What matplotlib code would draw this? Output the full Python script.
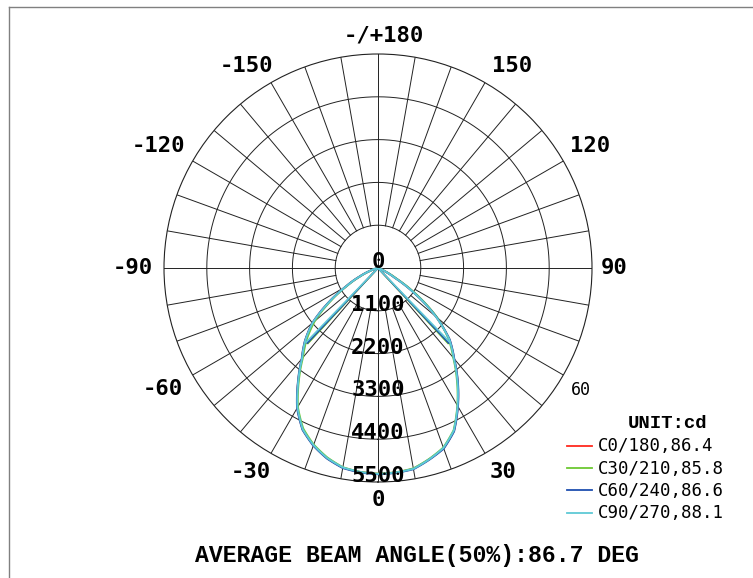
# Polar light distribution curve (4 C-planes) with beam angle lines
import numpy as np
import matplotlib.pyplot as plt
from matplotlib.lines import Line2D

# gamma angles (deg) the intensities were read at
gamma = [0, 5, 10, 15, 20, 25, 30, 35, 40, 45, 50, 55, 60, 65, 70, 75, 80, 85, 90]

# intensity in cd, right half (C0, C30, ...) and left half (C180, C210, ...)
c0_right = [5290, 5275, 5240, 5090, 4930, 4620, 4100, 3570, 3040, 2600, 1950, 1200, 500, 170, 50, 15, 0, 0, 0]
c0_left = [5290, 5265, 5210, 5060, 4850, 4580, 4150, 3580, 3040, 2650, 2200, 1550, 950, 520, 220, 70, 15, 0, 0]
c30_right = [5285, 5270, 5230, 5080, 4910, 4600, 4080, 3540, 3010, 2560, 1990, 1260, 560, 200, 60, 20, 0, 0, 0]
c30_left = [5285, 5260, 5200, 5040, 4830, 4550, 4120, 3550, 3000, 2590, 2120, 1500, 920, 500, 210, 60, 10, 0, 0]
c60_right = [5300, 5285, 5250, 5100, 4940, 4630, 4110, 3580, 3050, 2610, 1960, 1180, 480, 160, 45, 12, 0, 0, 0]
c60_left = [5300, 5275, 5220, 5070, 4860, 4590, 4160, 3590, 3050, 2660, 2210, 1570, 960, 530, 230, 75, 15, 0, 0]
c90_right = [5290, 5275, 5240, 5090, 4920, 4610, 4090, 3560, 3030, 2590, 1940, 1190, 490, 165, 48, 14, 0, 0, 0]
c90_left = [5290, 5262, 5205, 5055, 4845, 4575, 4140, 3575, 3035, 2645, 2195, 1545, 945, 515, 218, 68, 14, 0, 0]

series_names = ['C0/180', 'C30/210', 'C60/240', 'C90/270']
beam_angles = [86.4, 85.8, 86.6, 88.1]
avg_beam = 86.7
colors = ['#ff2a1f', '#6cc832', '#1f4fb0', '#5ec9d6']

r_ticks = [0, 1100, 2200, 3300, 4400, 5500]
angle_ticks = [0, 30, 60, 90, 120, 150, 180, -150, -120, -90, -60, -30]
angle_texts = ['0', '30', '60', '90', '120', '150', '-/+180', '-150', '-120', '-90', '-60', '-30']

W, H = 753, 578
cx, cy, R = 378, 268, 214

fig = plt.figure(figsize=(W / 100, H / 100), dpi=100)
ax = fig.add_axes([(cx - R) / W, (H - cy - R) / H, 2 * R / W, 2 * R / H], projection='polar')
ax.set_theta_zero_location('S')
ax.set_theta_direction(1)
ax.set_ylim(0, r_ticks[-1])
ax.set_xticks([])
ax.set_yticks([])
ax.grid(False)
ax.spines['polar'].set_linewidth(0.8)
ax.spines['polar'].set_color('#222222')

gcol = '#222222'
# circles
tt = np.linspace(0, 2 * np.pi, 721)
for r in r_ticks[1:-1]:
    ax.plot(tt, np.full_like(tt, r), color=gcol, lw=0.7, zorder=1)
# spokes every 10 deg, the main axes go to the centre
for a in range(0, 360, 10):
    r0 = 0 if a % 90 == 0 else r_ticks[1]
    ax.plot([np.radians(a)] * 2, [r0, r_ticks[-1]], color=gcol, lw=0.7, zorder=1)

# curves
halves = [(c0_right, c0_left), (c30_right, c30_left), (c60_right, c60_left), (c90_right, c90_left)]
g = np.array(gamma)
for (right, left), col, ba in zip(halves, colors, beam_angles):
    th = np.radians(np.concatenate([-g[::-1], g[1:]]))
    rr = np.concatenate([np.array(left)[::-1], np.array(right)[1:]])
    ln, = ax.plot(th, rr, color=col, lw=1.4, zorder=3)
    # let the polar transform draw each segment along theta/r instead of a chord
    ln.get_path()._interpolation_steps = 12
    half = max(right) / 2
    for s in (1, -1):
        ax.plot([np.radians(s * ba / 2)] * 2, [0, half], color=col, lw=1.2, zorder=3)

num_font = 'DejaVu Sans Mono'
# radial labels along the 0 axis
for r in r_ticks:
    ax.text(0, r, str(r), ha='center', va='baseline', fontsize=16, fontweight='bold',
            family=num_font, zorder=5)

# angle labels (radius in pixels, small angle shifts to sit like the original)
lab_pos = [0, 31.5, 59, 90, 120, 146.4, 178.5, -147, -119, -90, -60.6, -31.9]
lab_rpx = [232, 239, 237, 236, 245, 242, 233, 241, 251, 245, 247, 240]
for a, txt, p, rp in zip(angle_ticks, angle_texts, lab_pos, lab_rpx):
    small = (a == 60)
    ax.text(np.radians(p), rp / R * r_ticks[-1], txt, ha='center', va='center',
            fontsize=12 if small else 16, fontweight='normal' if small else 'bold',
            family=num_font, clip_on=False)

# legend drawn by hand
fig.text(668 / W, 1 - 428 / H, 'UNIT:cd', ha='center', va='baseline', fontsize=13.7,
         fontweight='bold', family='Liberation Mono')
for i, (name, ba, col) in enumerate(zip(series_names, beam_angles, colors)):
    y = 445.7 + 22.3 * i
    fig.add_artist(Line2D([567 / W, 592 / W], [1 - y / H] * 2, color=col, lw=1.3,
                          transform=fig.transFigure))
    fig.text(598 / W, 1 - (y + 5.5) / H, f'{name},{ba}', ha='left', va='baseline',
             fontsize=12.5, family=num_font)

fig.text(417 / W, 1 - 562 / H, f'AVERAGE BEAM ANGLE(50%):{avg_beam} DEG', ha='center',
         va='baseline', fontsize=16.7, fontweight='bold', family='Liberation Mono')

# frame lines (left and top)
fig.add_artist(Line2D([8.5 / W, 8.5 / W], [0, 1 - 6.5 / H], color='#808080', lw=1,
                      transform=fig.transFigure))
fig.add_artist(Line2D([8.5 / W, 1], [1 - 6.5 / H] * 2, color='#808080', lw=1,
                      transform=fig.transFigure))

fig.savefig('out.png', dpi=100)
